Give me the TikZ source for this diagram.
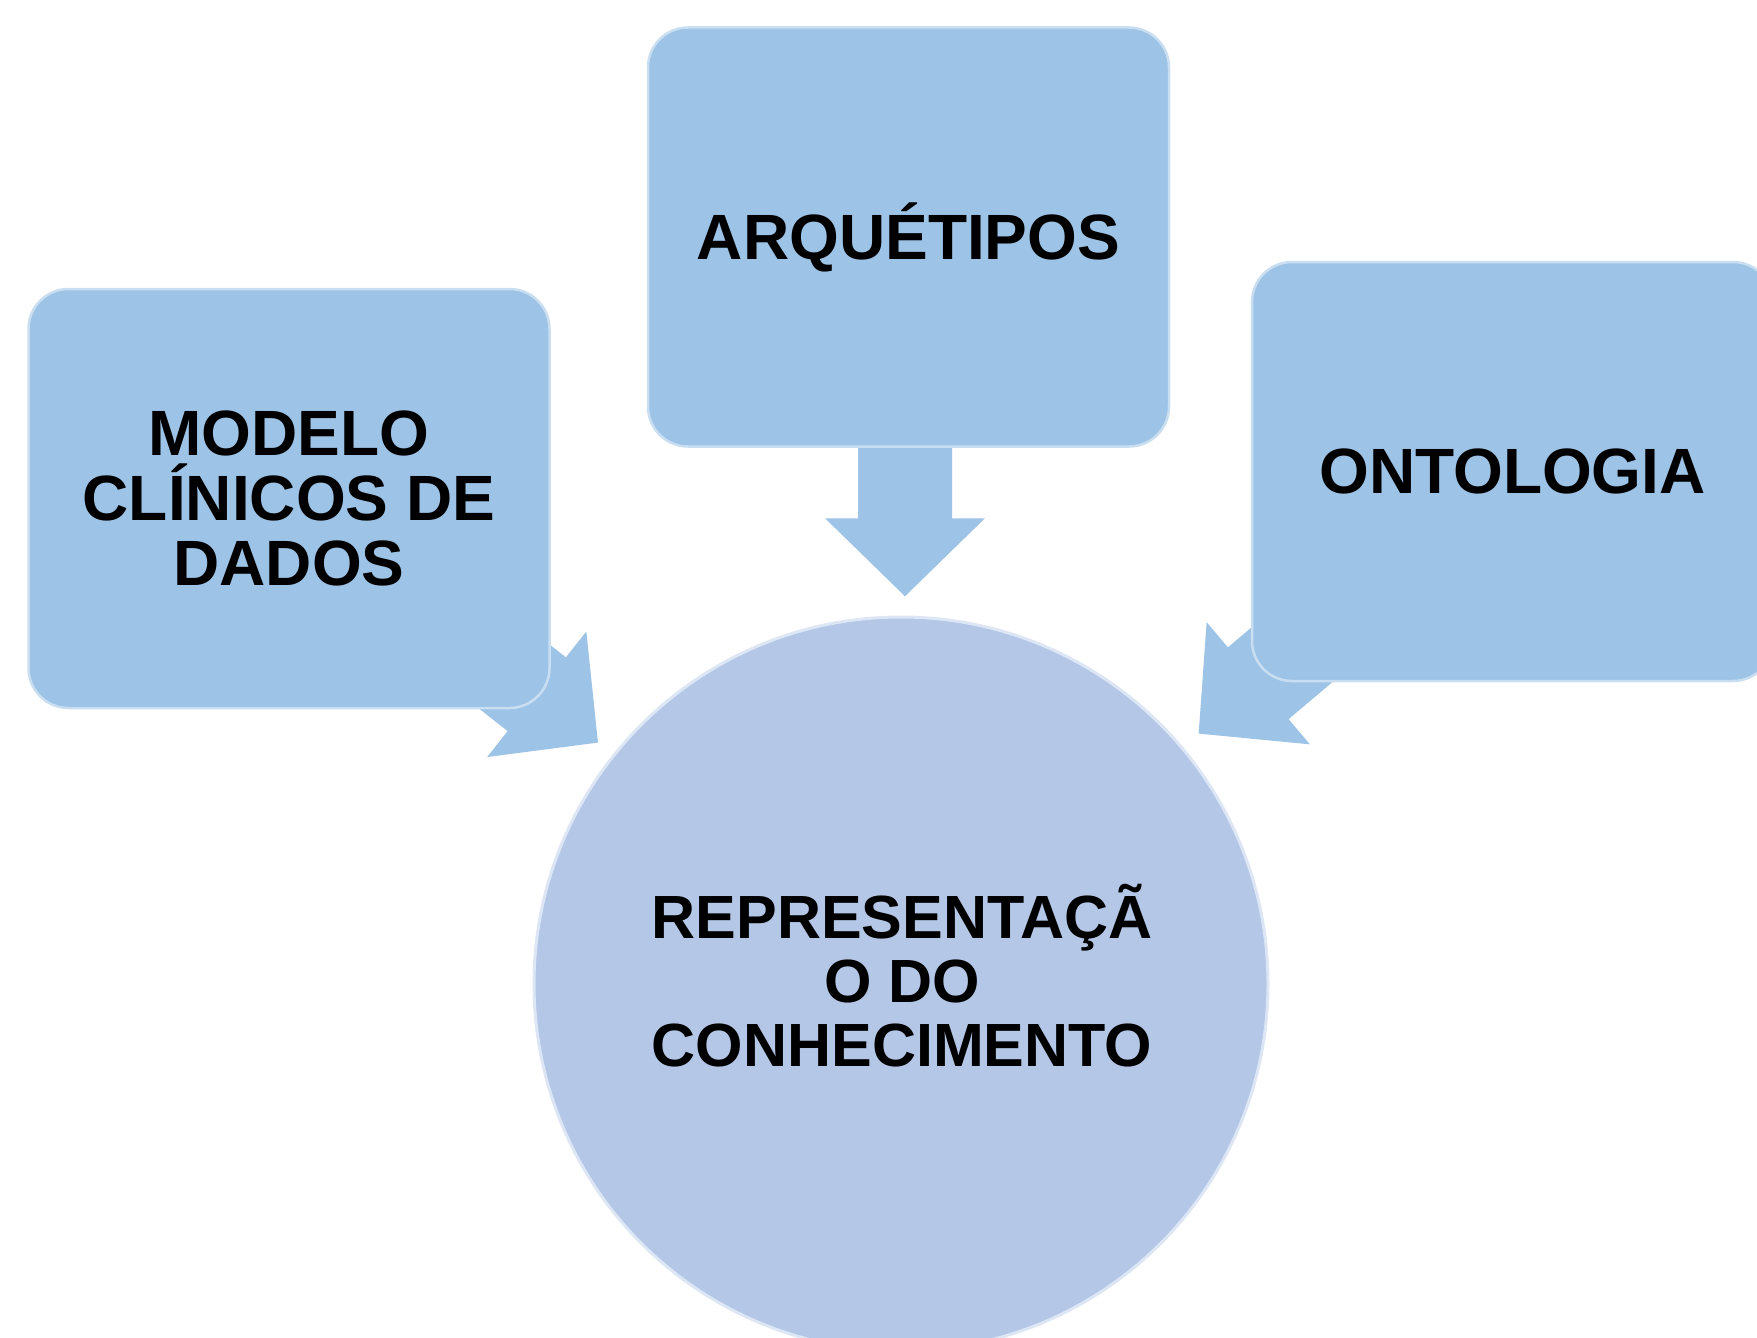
\documentclass[tikz,border=0pt]{standalone}
\usepackage{fontspec}
\setmainfont{Liberation Sans}
\usetikzlibrary{calc,backgrounds}
\definecolor{boxblue}{HTML}{9DC3E6}
\definecolor{circblue}{HTML}{B4C7E7}
\tikzset{
  labelfont/.style={font=\fontsize{64}{65}\selectfont\bfseries},
  hubfont/.style={font=\fontsize{61}{64}\selectfont\bfseries},
  box/.style={rectangle, rounded corners=40pt, fill=boxblue, draw=boxblue!55!white,
    line width=2.5pt, minimum width=521pt, minimum height=419pt, align=center,
    inner sep=0pt, labelfont},
  hub/.style={circle, fill=circblue, draw=circblue!45!white, line width=3pt,
    minimum size=734pt, inner sep=0pt},
  hubtext/.style={align=center, inner sep=0pt, hubfont},
  arrowfill/.style={fill=boxblue},
  blockarrow/.pic={\path[arrowfill] (-150,47) -- (0,47) -- (0,80) -- (78,0) -- (0,-80) -- (0,-47) -- (-150,-47) -- cycle;}
}
\begin{document}
\begin{tikzpicture}[x=1pt,y=1pt]
\clip (0,0) rectangle (1757,-1338);
\node[box] (modelo) at (289,-498.5) {MODELO\\CLÍNICOS DE\\DADOS};
\node[box] (arq) at (908.5,-237) {ARQUÉTIPOS};
\node[box] (onto) at (1512.5,-471.5) {ONTOLOGIA};
\node[hub] (rep) at (901,-984) {};
\node[hubtext] (reptext) at ($(rep.center)+(1,8.5)$) {REPRESENTAÇÃ\\O DO\\CONHECIMENTO};
\begin{scope}[on background layer]
  \pic[rotate=-90] at ($(arq.south)+(-3.5,-70.5)$) {blockarrow};
  \pic[rotate=-38.3] at ($(modelo.south east)+(-14,15)$) {blockarrow};
  \pic[rotate=220.2] at ($(onto.south west)+(7.5,-1)$) {blockarrow};
\end{scope}
\end{tikzpicture}
\end{document}
